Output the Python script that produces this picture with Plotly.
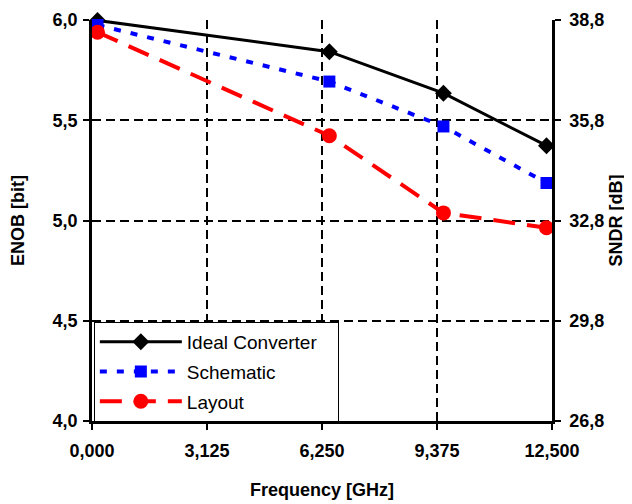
import plotly.graph_objects as go

freq = [0.15, 6.45, 9.55, 12.35]
ideal = [5.998, 5.842, 5.635, 5.373]
schematic = [5.975, 5.693, 5.469, 5.187]
layout_vals = [5.939, 5.423, 5.038, 4.964]

x_ticks = [0, 3.125, 6.25, 9.375, 12.5]
y_ticks = [4.0, 4.5, 5.0, 5.5, 6.0]
y2_ticks = [26.8, 29.8, 32.8, 35.8, 38.8]

fig = go.Figure()
fig.add_trace(go.Scatter(x=freq, y=ideal, name="Ideal Converter\u00a0\u00a0\u00a0", mode="lines+markers",
                         line=dict(color="black", width=3),
                         marker=dict(symbol="diamond", size=13, color="black"),
                         legendgroup="a", cliponaxis=False))
fig.add_trace(go.Scatter(x=freq, y=schematic, name="Schematic", mode="lines+markers",
                         line=dict(color="#0000FF", width=4, dash="7px,10px"),
                         marker=dict(symbol="square", size=12, color="#0000FF"),
                         legendgroup="b", cliponaxis=False))
fig.add_trace(go.Scatter(x=freq, y=layout_vals, name="Layout", mode="lines+markers",
                         line=dict(color="#FF0000", width=4, dash="22px,12px"),
                         marker=dict(symbol="circle", size=15, color="#FF0000"),
                         legendgroup="c", cliponaxis=False))
fig.add_trace(go.Scatter(x=[0, 12.5], y=[y2_ticks[0], y2_ticks[-1]], yaxis="y2",
                         mode="lines", line=dict(width=0), opacity=0,
                         showlegend=False, hoverinfo="skip"))

tickfont = dict(family="Liberation Sans, Arial", size=18, color="black", weight="bold")
titlefont = dict(family="Liberation Sans, Arial", size=18, color="black", weight="bold")
grid = dict(showgrid=True, gridcolor="black", gridwidth=1.5, griddash="9px,5px")
axline = dict(showline=True, linecolor="black", linewidth=2.5,
              ticks="outside", ticklen=6, tickwidth=2, tickcolor="black",
              zeroline=False, tickfont=tickfont, automargin=False)

# page body has an 8px margin; the figure is offset by it
fig.update_layout(
    width=624, height=496,
    margin=dict(l=84, r=80, t=12, b=83),
    paper_bgcolor="white", plot_bgcolor="white",
    separators=",.",
    showlegend=True,
    legend=dict(x=0.004, y=0.247, xanchor="left", yanchor="top",
                bgcolor="white", bordercolor="black", borderwidth=1,
                font=dict(family="Liberation Sans, Arial", size=19, color="black"),
                itemwidth=82, tracegroupgap=2, traceorder="grouped"),
    xaxis=dict(range=[0, 12.5], tickvals=x_ticks, tickformat=".3f",
               **axline, **grid, ticklabelstandoff=6,
               title=dict(text="Frequency [GHz]", font=titlefont, standoff=24)),
    yaxis=dict(range=[4.0, 6.0], tickvals=y_ticks, tickformat=".1f",
               **axline, **grid, ticklabelstandoff=2,
               title=dict(text="ENOB [bit]", font=titlefont, standoff=24)),
    yaxis2=dict(range=[26.8, 38.8], tickvals=y2_ticks, tickformat=".1f",
                overlaying="y", side="right", showgrid=False,
                **axline, ticklabelstandoff=5,
                title=dict(text="SNDR [dB]", font=titlefont, standoff=7)),
)

fig.write_html("out.html")
